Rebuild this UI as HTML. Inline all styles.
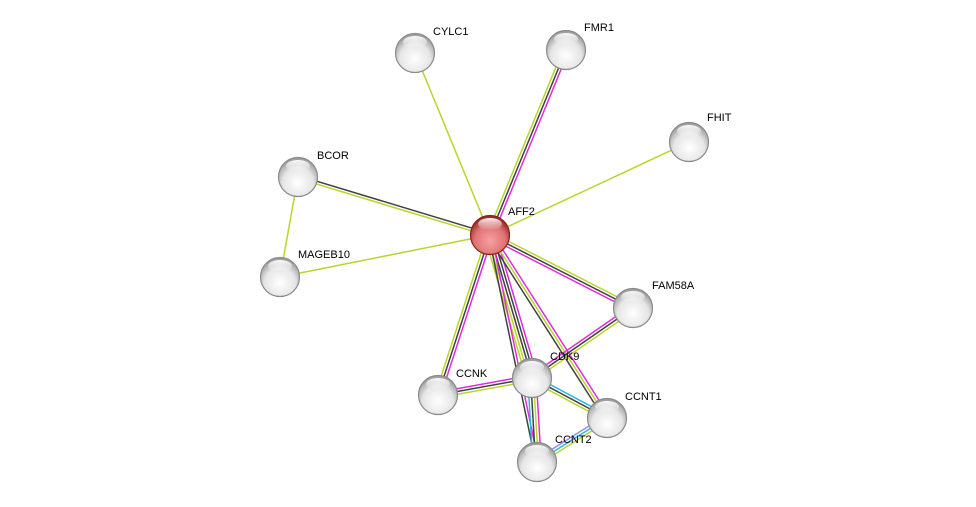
<!DOCTYPE html>
<html><head><meta charset="utf-8"><style>
html,body{margin:0;padding:0;background:#fff;}
svg{display:block;}
text{font-family:"Liberation Sans",Arial,sans-serif;font-size:11px;fill:#000;}
</style></head><body>
<svg id="s" width="976" height="507" viewBox="0 0 976 507" xmlns="http://www.w3.org/2000/svg">
<defs>
<radialGradient id="g" cx="50%" cy="65%" r="60%">
<stop offset="0" stop-color="#ffffff"/><stop offset="0.65" stop-color="#e6e6e6"/><stop offset="1" stop-color="#a0a0a0"/>
</radialGradient>
<radialGradient id="r" cx="50%" cy="65%" r="60%">
<stop offset="0" stop-color="#f6a0a0"/><stop offset="0.65" stop-color="#e07474"/><stop offset="1" stop-color="#9a2a2a"/>
</radialGradient>
<linearGradient id="h" x1="0" y1="0" x2="0" y2="1">
<stop offset="0" stop-color="#fff" stop-opacity="0.95"/><stop offset="1" stop-color="#fff" stop-opacity="0"/>
</linearGradient>
</defs>
<g id="edges"></g>
<g id="nodes"></g>
</svg>
<script>
var N={AFF2:[490,235],CYLC1:[415,53],FMR1:[566,50],FHIT:[689,142],BCOR:[298,177],MAGEB10:[280,277],FAM58A:[633,308],CDK9:[532,378],CCNK:[438,395],CCNT1:[607,418],CCNT2:[537,462]};
var G="#b8d62a",K="#404040",M="#e02be0",C="#2ab8e0",P="#9a8ae8";
var E=[["AFF2","CYLC1",[G]],["AFF2","FMR1",[G,K,M]],["AFF2","FHIT",[G]],["AFF2","BCOR",[G,K]],["AFF2","MAGEB10",[G]],["BCOR","MAGEB10",[G]],
["AFF2","FAM58A",[G,K,M]],["AFF2","CCNK",[M,K,G]],["AFF2","CDK9",[M,K,K,G,G]],["AFF2","CCNT2",[M,K]],["AFF2","CCNT1",[M,G,K]],
["CDK9","FAM58A",[M,K,G]],["CDK9","CCNK",[G,K,M]],["CDK9","CCNT1",[C,K,G]],["CDK9","CCNT2",[M,G,K,C]],["CCNT1","CCNT2",[G,C,P]]];
var ns="http://www.w3.org/2000/svg",eg=document.getElementById("edges"),ng=document.getElementById("nodes");
E.forEach(function(e){var a=N[e[0]],b=N[e[1]],dx=b[0]-a[0],dy=b[1]-a[1],l=Math.hypot(dx,dy),px=-dy/l,py=dx/l,n=e[2].length;
e[2].forEach(function(c,i){var o=(i-(n-1)/2)*2.8;var L=document.createElementNS(ns,"line");
L.setAttribute("x1",a[0]+px*o);L.setAttribute("y1",a[1]+py*o);L.setAttribute("x2",b[0]+px*o);L.setAttribute("y2",b[1]+py*o);
L.setAttribute("stroke",c);L.setAttribute("stroke-width","1.5");eg.appendChild(L);});});
var lab={AFF2:[508,216],CYLC1:[433,36],FMR1:[584,32],FHIT:[707,122],BCOR:[317,160],MAGEB10:[298,259],FAM58A:[652,290],CDK9:[550,361],CCNK:[456,378],CCNT1:[625,401],CCNT2:[555,444]};
for(var k in N){var p=N[k],red=k=="AFF2";
var c=document.createElementNS(ns,"circle");c.setAttribute("cx",p[0]);c.setAttribute("cy",p[1]);c.setAttribute("r",19.5);
c.setAttribute("fill",red?"url(#r)":"url(#g)");c.setAttribute("stroke",red?"#8a2020":"#8a8a8a");c.setAttribute("stroke-width","1.2");ng.appendChild(c);
var h=document.createElementNS(ns,"ellipse");h.setAttribute("cx",p[0]);h.setAttribute("cy",p[1]-11);h.setAttribute("rx",12);h.setAttribute("ry",6);h.setAttribute("fill","url(#h)");ng.appendChild(h);
var t=document.createElementNS(ns,"text");t.setAttribute("x",lab[k][0]);t.setAttribute("y",lab[k][1]-1);t.textContent=k;ng.appendChild(t);}
</script>
</body></html>
